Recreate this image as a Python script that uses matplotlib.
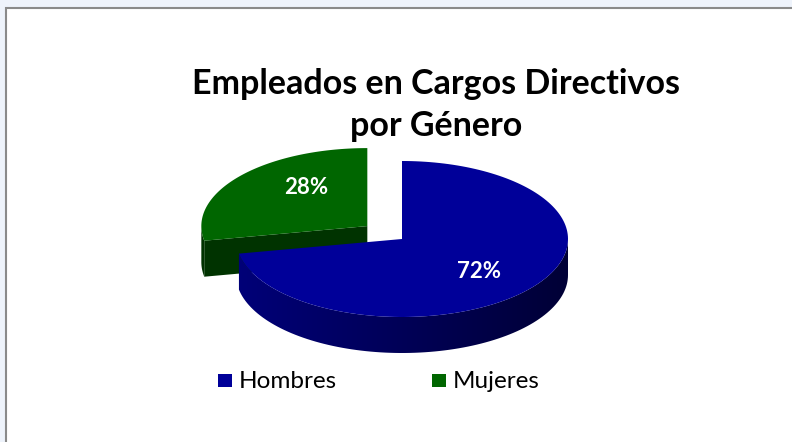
import numpy as np
import matplotlib
matplotlib.use("Agg")
import matplotlib.pyplot as plt
from matplotlib.patches import Polygon, Rectangle
from matplotlib.colors import LinearSegmentedColormap

# data
labels = ["Hombres", "Mujeres"]
values = [72, 28]
top_colors = ["#000099", "#006600"]
side_left = ["#000078", "#003300"]
side_right = ["#000036", "#002600"]
title = "Empleados en Cargos Directivos\npor Género"

plt.rcParams['font.family'] = ['Lato', 'DejaVu Sans']

fig = plt.figure(figsize=(7.92, 4.42), dpi=100)
fig.patch.set_facecolor("#eef3fb")
ax = fig.add_axes([0, 0, 1, 1])
ax.set_xlim(0, 792)
ax.set_ylim(442, 0)
ax.axis("off")

# chart area with grey border
ax.add_patch(Rectangle((5.5, 7.5), 800, 450, facecolor="white",
                       edgecolor="#8a8a8a", linewidth=1.5, zorder=0.5))

# 3d pie geometry (pixels)
cx, cy = 402, 239
rx, ry = 166, 78
depth = 36
explode = [0, 45]


def pt(t, ox, oy):
    # t clockwise from 12 o'clock, degrees
    r = np.radians(t)
    return ox + rx * np.sin(r), oy - ry * np.cos(r)


total = sum(values)
starts = np.cumsum([0] + values[:-1]) / total * 360
ends = np.cumsum(values) / total * 360

pieces = []
for i in range(len(values)):
    mid = np.radians((starts[i] + ends[i]) / 2)
    ox = cx + explode[i] * np.sin(mid)
    oy = cy - explode[i] * np.cos(mid) * 0.45
    pieces.append((ox, oy))

# draw back piece first (mujeres), then hombres
for n, i in enumerate([1, 0]):
    z = 2 + 3 * n
    s, e = starts[i], ends[i]
    ox, oy = pieces[i]
    # cut face at the start angle faces the viewer when it lies in 180..270
    if 180 <= s <= 270:
        px, py = pt(s, ox, oy)
        poly = [(ox, oy), (px, py), (px, py + depth), (ox, oy + depth)]
        ax.add_patch(Polygon(poly, closed=True, facecolor=side_left[i],
                             edgecolor="none", zorder=z))
    # outer side wall, front half only, shaded left to right
    a0, a1 = max(s, 90), min(e, 270)
    if a1 > a0:
        ts = np.linspace(a0, a1, 100)
        xs, ys = pt(ts, ox, oy)
        side = np.column_stack([np.r_[xs, xs[::-1]], np.r_[ys, ys[::-1] + depth]])
        patch = Polygon(side, closed=True, facecolor="none", edgecolor="none")
        ax.add_patch(patch)
        cmap = LinearSegmentedColormap.from_list("side", [side_left[i], side_right[i]])
        grad = np.linspace(0, 1, 256)[None, :]
        im = ax.imshow(grad, cmap=cmap, aspect="auto", interpolation="bilinear",
                       extent=[ox - rx, ox + rx, oy + ry + depth + 2, oy - 2],
                       zorder=z + 1)
        im.set_clip_path(patch)
    # top face
    ts = np.linspace(s, e, 160)
    xs, ys = pt(ts, ox, oy)
    poly = np.column_stack([np.r_[ox, xs], np.r_[oy, ys]])
    ax.add_patch(Polygon(poly, facecolor=top_colors[i], edgecolor="none", zorder=z + 2))

ax.set_xlim(0, 792)
ax.set_ylim(442, 0)

# percentage labels
lab_pos = [(479, 271), (306, 187)]
for i in range(len(values)):
    ax.text(lab_pos[i][0], lab_pos[i][1], f"{values[i]}%", color="white",
            fontsize=16, fontweight="bold", ha="center", va="center", zorder=10)

ax.text(436, 105, title, fontsize=24.5, fontweight="bold", ha="center",
        va="center", linespacing=1.42)

# legend
leg_x = [218, 432]
for i in range(len(labels)):
    ax.add_patch(Rectangle((leg_x[i], 374), 14, 13, facecolor=top_colors[i],
                           edgecolor="none"))
    ax.text(leg_x[i] + 21, 381, labels[i], fontsize=17.5, ha="left", va="center")

fig.savefig("out.png", dpi=100, facecolor=fig.get_facecolor())
